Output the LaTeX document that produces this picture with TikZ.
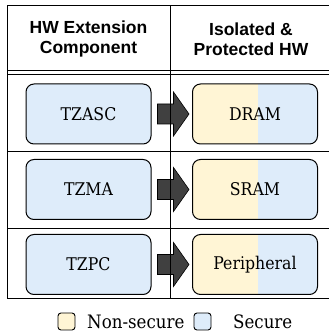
\documentclass[tikz,border=0pt]{standalone}
\usepackage{fontspec}
\setmainfont{DejaVu Serif Condensed}
\newfontfamily\hdrfont{Liberation Sans}
\usetikzlibrary{calc}
\definecolor{nsyellow}{HTML}{FFF5D5}
\definecolor{secblue}{HTML}{DEECFA}
\definecolor{arrowgray}{HTML}{404040}

\begin{document}
\begin{tikzpicture}[x=1pt, y=1pt,
  hwbox/.style={draw, line width=1pt, rounded corners=8pt, minimum width=125pt, minimum height=60pt, font=\fontsize{17.5}{20}\selectfont},
  splitbox/.style={hwbox, path picture={
      \fill[nsyellow, sharp corners] (path picture bounding box.south west) rectangle ([xshift=3pt]path picture bounding box.north);
      \fill[secblue, sharp corners] ([xshift=3pt]path picture bounding box.south) rectangle (path picture bounding box.north east);}},
  keybox/.style={draw, line width=0.9pt, rounded corners=3pt, minimum size=17pt, inner sep=0pt},
  header/.style={font=\hdrfont\bfseries\fontsize{17.5}{20.5}\selectfont, align=center}]
  \useasboundingbox (0,0) rectangle (329,333);

  % Table frame
  \draw[line width=1pt] (330,327) -- (7,327) -- (7,34) -- (330,34);
  \draw[line width=0.8pt] (7,263) -- (330,263);
  \draw[line width=0.8pt] (7,259) -- (330,259);
  \draw[line width=1pt] (7,181) -- (330,181);
  \draw[line width=1pt] (7,104) -- (330,104);

  % Column headers
  \node[header] (hdrleft) at (88.5,294) {HW Extension\\Component};
  \node[header] (hdrright) at (251,294) {Isolated \&\\Protected HW};

  % Rows: extension component -> protected hardware
  \node[hwbox, fill=secblue] (tzasc) at (88.5,219) {TZASC};
  \node[splitbox] (dram) at (255,219) {DRAM};
  \node[hwbox, fill=secblue] (tzma) at (88.5,143.5) {TZMA};
  \node[splitbox] (sram) at (255,143.5) {SRAM};
  \node[hwbox, fill=secblue] (tzpc) at (88.5,68.5) {TZPC};
  \node[splitbox] (periph) at (255,68.5) {Peripheral};

  % Block arrows
  \foreach \src/\dst in {tzasc/dram, tzma/sram, tzpc/periph} {
    \coordinate (s) at ($(\src.east)+(6,0)$);
    \coordinate (e) at ($(\dst.west)+(-3,0)$);
    \filldraw[fill=arrowgray, draw=black, line width=0.6pt]
      ($(s)+(0,10)$) -- ($(s)+(16,10)$) -- ($(s)+(16,22)$) -- (e)
      -- ($(s)+(16,-22)$) -- ($(s)+(16,-10)$) -- ($(s)+(0,-10)$) -- cycle;
  }

  % Column divider (over the arrows)
  \draw[line width=1pt] (170,327) -- (170,34);

  % Legend
  \node[keybox, fill=nsyellow] (keyns) at (66.5,11.5) {};
  \node[anchor=west, font=\fontsize{18.5}{20}\selectfont, inner sep=0pt] (lblns) at (87,11.5) {Non-secure};
  \node[keybox, fill=secblue] (keysec) at (202.5,11.5) {};
  \node[anchor=west, font=\fontsize{18.5}{20}\selectfont, inner sep=0pt] (lblsec) at (233,11.5) {Secure};
\end{tikzpicture}
\end{document}
